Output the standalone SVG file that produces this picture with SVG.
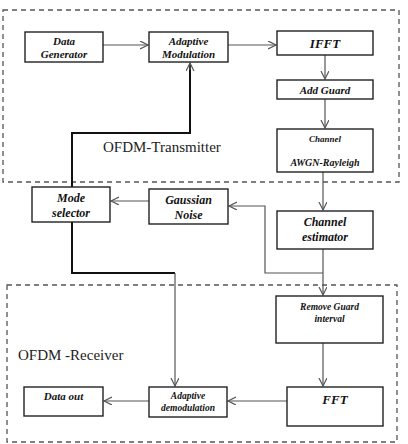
<svg xmlns="http://www.w3.org/2000/svg" width="408" height="444" viewBox="0 0 408 444">
<style>
.box{fill:#fff;stroke:#222;stroke-width:1.4}
.lbl{font-family:"Liberation Serif",serif;font-weight:bold;font-style:italic;fill:#111;text-anchor:middle}
.con{fill:none;stroke:#555;stroke-width:1.2}
.thick{fill:none;stroke:#111;stroke-width:2}
.frame{fill:none;stroke:#555;stroke-width:1.3;stroke-dasharray:5,4}
.title{font-family:"Liberation Serif",serif;fill:#222;font-size:15px}
</style>
<defs>
<marker id="ah" markerWidth="10" markerHeight="10" refX="8" refY="4" orient="auto" markerUnits="userSpaceOnUse">
<path d="M0,0 L8,4 L0,8" fill="none" stroke="#555" stroke-width="1.2"/>
</marker>
</defs>
<rect fill="#fff" width="408" height="444"/>
<g id="frames">
<rect class="frame" x="3" y="10" width="396" height="172"/>
<rect class="frame" x="7" y="285" width="390" height="157"/>
<text class="title" x="103" y="152">OFDM-Transmitter</text>
<text class="title" x="18" y="360">OFDM -Receiver</text>
</g>
<g id="connectors">
<line class="con" x1="103" y1="45" x2="148" y2="45" marker-end="url(#ah)"/>
<line class="con" x1="228" y1="45" x2="276" y2="45" marker-end="url(#ah)"/>
<line class="con" x1="325" y1="55" x2="325" y2="79" marker-end="url(#ah)"/>
<line class="con" x1="325" y1="99" x2="325" y2="128" marker-end="url(#ah)"/>
<line class="con" x1="323" y1="172" x2="323" y2="210" marker-end="url(#ah)"/>
<line class="con" x1="149" y1="201" x2="111" y2="201" marker-end="url(#ah)"/>
<polyline class="con" points="323,249 323,295" marker-end="url(#ah)"/>
<polyline class="con" points="323,273 265,273 265,206 229,206" marker-end="url(#ah)"/>
<polyline class="thick" points="72,187 72,133 190,133 190,64"/>
<line class="con" x1="190" y1="70" x2="190" y2="63" marker-end="url(#ah)"/>
<polyline class="thick" points="72,222 72,273 175,273"/>
<line class="con" x1="175" y1="273" x2="175" y2="386" marker-end="url(#ah)"/>
<line class="con" x1="323" y1="343" x2="323" y2="386" marker-end="url(#ah)"/>
<line class="con" x1="287" y1="401" x2="228" y2="401" marker-end="url(#ah)"/>
<line class="con" x1="149" y1="401" x2="104" y2="401" marker-end="url(#ah)"/>
</g>
<g id="data-generator">
<rect class="box" x="25" y="32" width="78" height="30"/>
<text class="lbl" x="64" y="45" font-size="11">Data</text>
<text class="lbl" x="64" y="58" font-size="11">Generator</text>
</g>
<g id="adaptive-modulation">
<rect class="box" x="149" y="32" width="79" height="30"/>
<text class="lbl" x="188.5" y="45" font-size="11">Adaptive</text>
<text class="lbl" x="188.5" y="58" font-size="11">Modulation</text>
</g>
<g id="ifft">
<rect class="box" x="277" y="31" width="96" height="24"/>
<text class="lbl" x="325" y="48" font-size="13">IFFT</text>
</g>
<g id="add-guard">
<rect class="box" x="277" y="80" width="96" height="19"/>
<text class="lbl" x="325" y="93.5" font-size="11">Add Guard</text>
</g>
<g id="channel">
<rect class="box" x="277" y="129" width="96" height="43"/>
<text class="lbl" x="325" y="142" font-size="9">Channel</text>
<text class="lbl" x="325" y="166" font-size="10">AWGN-Rayleigh</text>
</g>
<g id="mode-selector">
<rect class="box" x="32" y="187" width="78" height="35"/>
<text class="lbl" x="71" y="202" font-size="12">Mode</text>
<text class="lbl" x="71" y="217" font-size="12">selector</text>
</g>
<g id="gaussian-noise">
<rect class="box" x="149" y="189" width="79" height="35"/>
<text class="lbl" x="188.5" y="204" font-size="12">Gaussian</text>
<text class="lbl" x="188.5" y="219" font-size="12">Noise</text>
</g>
<g id="channel-estimator">
<rect class="box" x="277" y="211" width="96" height="38"/>
<text class="lbl" x="325" y="226" font-size="12">Channel</text>
<text class="lbl" x="325" y="241" font-size="12">estimator</text>
</g>
<g id="remove-guard">
<rect class="box" x="276" y="296" width="107" height="47"/>
<text class="lbl" x="329.5" y="310" font-size="9.5">Remove Guard</text>
<text class="lbl" x="329.5" y="322" font-size="9.5">interval</text>
</g>
<g id="fft">
<rect class="box" x="287" y="387" width="96" height="39"/>
<text class="lbl" x="335" y="404" font-size="13">FFT</text>
</g>
<g id="adaptive-demodulation">
<rect class="box" x="149" y="387" width="78" height="30"/>
<text class="lbl" x="188" y="399" font-size="9.5">Adaptive</text>
<text class="lbl" x="188" y="411" font-size="9.5">demodulation</text>
</g>
<g id="data-out">
<rect class="box" x="24" y="387" width="79" height="29"/>
<text class="lbl" x="63.5" y="400" font-size="11">Data out</text>
</g>
</svg>
